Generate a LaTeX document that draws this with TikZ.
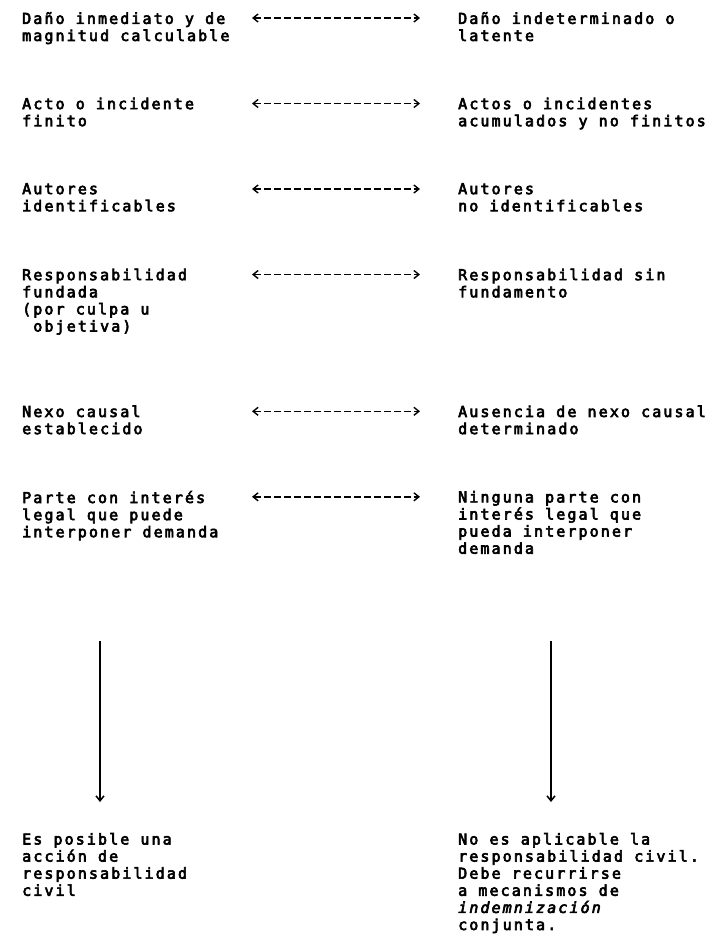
\documentclass[tikz,border=0pt]{standalone}
\usepackage{fontspec}
\newfontfamily\dotfont[LetterSpace=14,FakeBold=4,ItalicFeatures={FakeBold=4}]{DejaVu Sans Mono}
\usetikzlibrary{arrows.meta}

\begin{document}
\begin{tikzpicture}[x=1pt,y=-1pt,
    txt/.style={anchor=north west, align=left, inner sep=0pt,
      font=\dotfont\fontsize{15}{17.1}\selectfont},
    dashpair/.style={{Straight Barb[length=5pt,width=8pt]}-{Straight Barb[length=5pt,width=8pt]},
      dash pattern=on 7pt off 3pt, line width=1.4pt},
    downarr/.style={-{Straight Barb[length=5pt,width=8pt]}, line width=1.5pt}]
    \useasboundingbox (0,0) rectangle (710,948);
    % left column
    \node[txt] (l1) at (22,12) {Daño inmediato y de\\magnitud calculable};
    \node[txt] (l2) at (22,97.5) {Acto o incidente\\finito};
    \node[txt] (l3) at (22,183) {Autores\\identificables};
    \node[txt] (l4) at (22,268.5) {Responsabilidad\\fundada\\(por culpa u\\\mbox{ }objetiva)};
    \node[txt] (l5) at (22,405.3) {Nexo causal\\establecido};
    \node[txt] (l6) at (22,490.8) {Parte con interés\\legal que puede\\interponer demanda};
    % right column
    \node[txt] (r1) at (458,12) {Daño indeterminado o\\latente};
    \node[txt] (r2) at (458,97.5) {Actos o incidentes\\acumulados y no finitos};
    \node[txt] (r3) at (458,183) {Autores\\no identificables};
    \node[txt] (r4) at (458,268.5) {Responsabilidad sin\\fundamento};
    \node[txt] (r5) at (458,405.3) {Ausencia de nexo causal\\determinado};
    \node[txt] (r6) at (458,490.8) {Ninguna parte con\\interés legal que\\pueda interponer\\demanda};
    % results
    \node[txt] (b1) at (22,832.8) {Es posible una\\acción de\\responsabilidad\\civil};
    \node[txt] (b2) at (458,832.8) {No es aplicable la\\responsabilidad civil.\\Debe recurrirse\\a mecanismos de\\\textit{indemnización}\\conjunta.};
    %
    \coordinate (p1) at (252,18);    \coordinate (q1) at (420,18);
    \coordinate (p2) at (252,103.5); \coordinate (q2) at (420,103.5);
    \coordinate (p3) at (252,189);   \coordinate (q3) at (420,189);
    \coordinate (p4) at (252,274.5); \coordinate (q4) at (420,274.5);
    \coordinate (p5) at (252,411.3); \coordinate (q5) at (420,411.3);
    \coordinate (p6) at (252,496.8); \coordinate (q6) at (420,496.8);
    \draw[dashpair] (p1) -- (q1);
    \draw[dashpair] (p2) -- (q2);
    \draw[dashpair] (p3) -- (q3);
    \draw[dashpair] (p4) -- (q4);
    \draw[dashpair] (p5) -- (q5);
    \draw[dashpair] (p6) -- (q6);
    %
    \coordinate (s1) at (100,641); \coordinate (e1) at (100,802);
    \coordinate (s2) at (551,641); \coordinate (e2) at (551,802);
    \draw[downarr] (s1) -- (e1);
    \draw[downarr] (s2) -- (e2);
\end{tikzpicture}
\end{document}
